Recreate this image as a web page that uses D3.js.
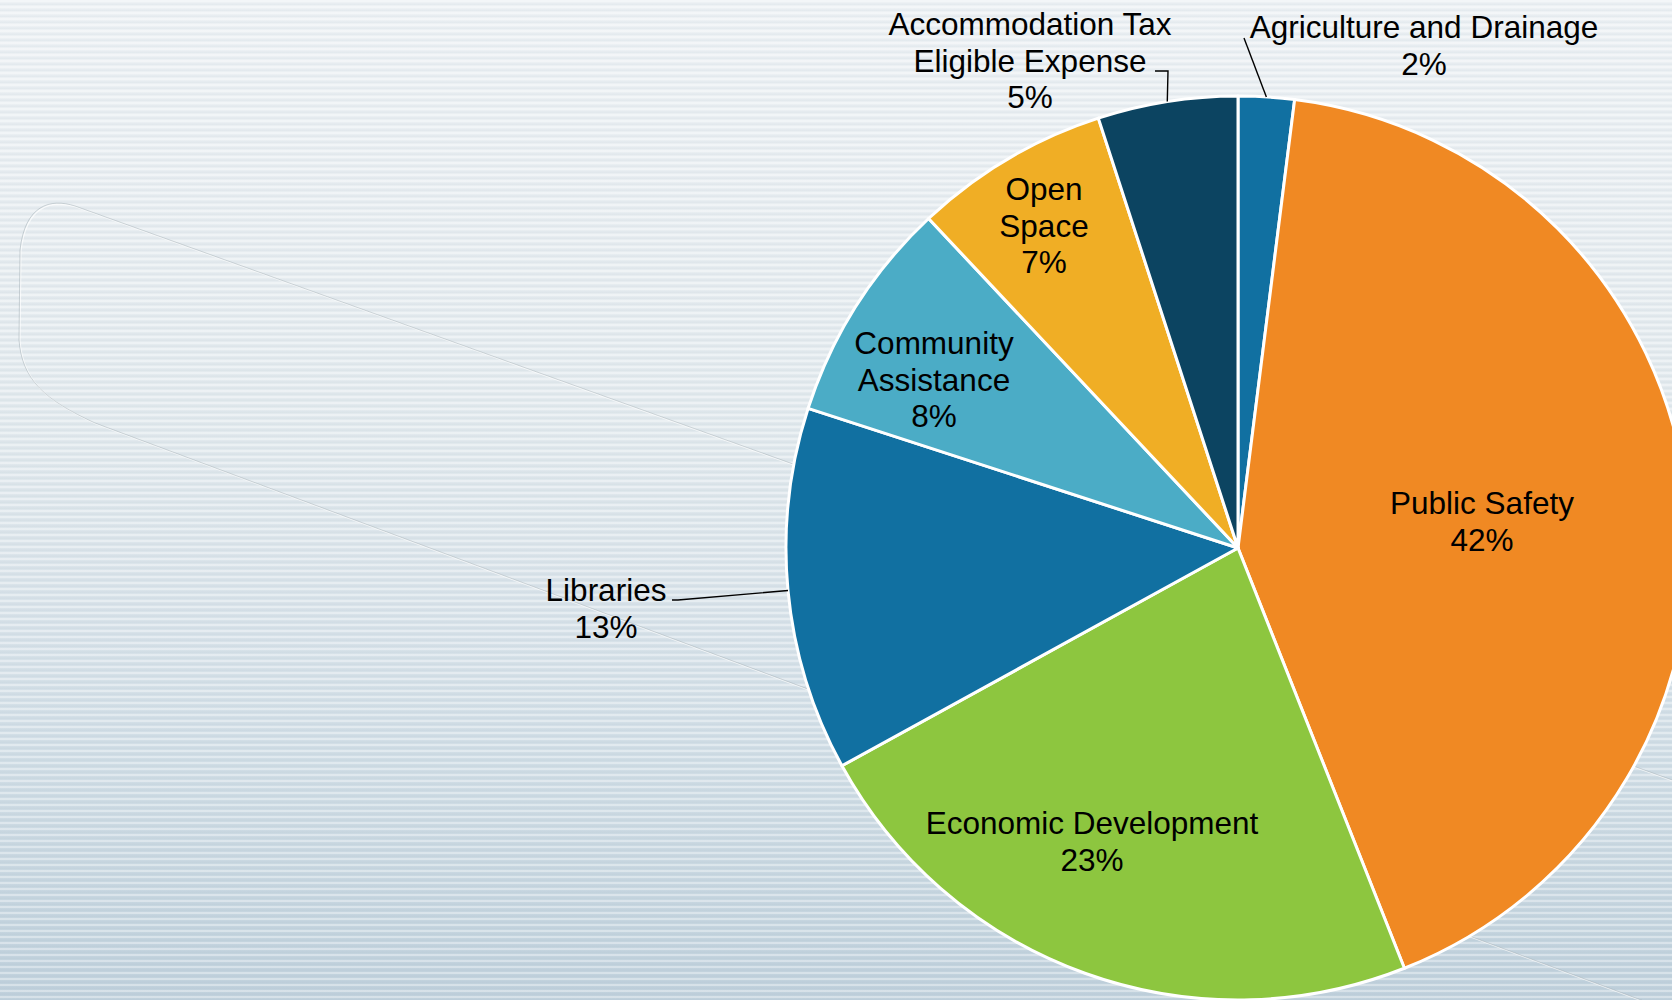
<!DOCTYPE html>
<html>
<head>
<meta charset="utf-8">
<script src="https://cdn.jsdelivr.net/npm/d3@7/dist/d3.min.js"></script>
<style>
  html, body { margin: 0; padding: 0; overflow: hidden; }
  svg { display: block; }
</style>
</head>
<body>
<svg id="chart" width="1672" height="1000"></svg>
<script>
// ---- data ----
const categories = ["Agriculture and Drainage", "Public Safety", "Economic Development", "Libraries", "Community Assistance", "Open Space", "Accommodation Tax Eligible Expense"];
const values = [2, 42, 23, 13, 8, 7, 5];
const labelLines = [
  ["Agriculture and Drainage"],
  ["Public Safety"],
  ["Economic Development"],
  ["Libraries"],
  ["Community", "Assistance"],
  ["Open", "Space"],
  ["Accommodation Tax", "Eligible Expense"]
];
const colors = ["#1170a1", "#f08923", "#8dc63f", "#1170a1", "#4bacc6", "#f0ae25", "#0c4461"];

// ---- layout ----
const W = 1672, H = 1000;
const cx = 1238, cy = 548, R = 452;
const fontSize = 31.5, lineH = 36.5;
// label first-line visual centres relative to pie centre
const labelPos = [
  [186, -521], [244, -45], [-146, 275], [-632, 42], [-304, -205], [-194, -359], [-208, -524]
];
// leader line bends (relative to pie centre), null = none
const leaders = [
  [[6, -510]],
  null, null,
  [[-560, 52], [-566, 52]],
  null, null,
  [[-70, -477], [-83, -477]]
];

const svg = d3.select("#chart");
const defs = svg.append("defs");

const grad = defs.append("linearGradient").attr("id", "bg").attr("x1", 0).attr("y1", 0).attr("x2", 0).attr("y2", 1);
[[0, "#edf1f4"], [0.4, "#e3eaee"], [0.72, "#d3dfe7"], [1, "#c0d1dc"]].forEach(s =>
  grad.append("stop").attr("offset", s[0]).attr("stop-color", s[1]));

const pat = defs.append("pattern").attr("id", "stripes").attr("patternUnits", "userSpaceOnUse")
  .attr("width", 12).attr("height", 6);
pat.append("rect").attr("x", 0).attr("y", 0).attr("width", 12).attr("height", 2).attr("fill", "#ffffff").attr("opacity", 0.35);
pat.append("rect").attr("x", 0).attr("y", 3.5).attr("width", 12).attr("height", 1.2).attr("fill", "#8fa3b0").attr("opacity", 0.1);

svg.append("rect").attr("width", W).attr("height", H).attr("fill", "url(#bg)");
svg.append("rect").attr("width", W).attr("height", H).attr("fill", "url(#stripes)");

// faint decorative outline behind
const deco = "M1700,790 L75,206 C50,198 25,205 20,250 L19,340 C22,380 45,400 95,423 L1700,1022";
svg.append("path").attr("d", deco).attr("transform", "translate(1,1)").attr("fill", "none")
  .attr("stroke", "#ffffff").attr("stroke-width", 1.2).attr("opacity", 0.7);
svg.append("path").attr("d", deco).attr("fill", "none")
  .attr("stroke", "#9aa6ae").attr("stroke-width", 1).attr("opacity", 0.45);

// ---- pie ----
const pie = d3.pie().sort(null).value(d => d)(values);
const arc = d3.arc().innerRadius(0).outerRadius(R);
const g = svg.append("g").attr("transform", `translate(${cx},${cy})`);

g.selectAll("path.slice").data(pie).join("path")
  .attr("class", "slice")
  .attr("d", arc)
  .attr("fill", (d, i) => colors[i])
  .attr("stroke", "#ffffff")
  .attr("stroke-width", 3)
  .attr("stroke-linejoin", "round");

// leader lines
pie.forEach((d, i) => {
  if (!leaders[i]) return;
  const a = (d.startAngle + d.endAngle) / 2;
  const p0 = [R * Math.sin(a), -R * Math.cos(a)];
  const pts = [p0].concat(leaders[i]);
  g.append("path").attr("d", d3.line()(pts)).attr("fill", "none")
    .attr("stroke", "#000").attr("stroke-width", 1.4);
});

// labels
pie.forEach((d, i) => {
  const lines = labelLines[i].concat([d3.format(".0%")(values[i] / d3.sum(values))]);
  const t = g.append("text")
    .attr("text-anchor", "middle")
    .attr("font-family", "'Liberation Sans', Arial, Helvetica, sans-serif")
    .attr("font-size", fontSize)
    .attr("fill", "#000");
  lines.forEach((ln, k) => {
    t.append("tspan").attr("x", labelPos[i][0])
      .attr("y", labelPos[i][1] + k * lineH + 11.3)
      .text(ln);
  });
});
</script>
</body>
</html>
